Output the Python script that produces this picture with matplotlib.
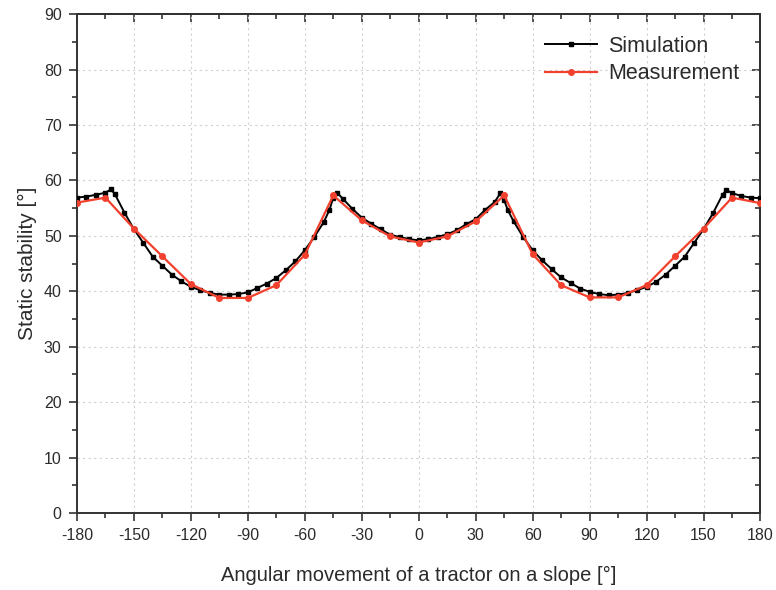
import matplotlib
matplotlib.use("Agg")
import matplotlib.pyplot as plt
from matplotlib.ticker import MultipleLocator

plt.rcParams['font.family'] = ['Liberation Sans', 'DejaVu Sans']
plt.rcParams['axes.unicode_minus'] = False

sim_x = [-180, -175, -170, -165, -162, -160, -155, -150, -145, -140, -135, -130, -125,
         -120, -115, -110, -105, -100, -95, -90, -85, -80, -75, -70, -65, -60, -55,
         -50, -47, -45, -43, -40, -35, -30, -25, -20, -15, -10, -5, 0,
         5, 10, 15, 20, 25, 30, 35, 40, 43, 45, 47, 50, 55, 60, 65, 70, 75, 80, 85,
         90, 95, 100, 105, 110, 115, 120, 125, 130, 135, 140, 145, 150, 155, 160,
         162, 165, 170, 175, 180]
sim_y = [56.9, 57.1, 57.4, 57.8, 58.4, 57.5, 54.2, 51.2, 48.7, 46.2, 44.6, 43.0, 41.8,
         40.8, 40.2, 39.7, 39.4, 39.4, 39.5, 39.8, 40.6, 41.4, 42.4, 43.8, 45.4, 47.4, 49.8,
         52.5, 54.7, 56.9, 57.8, 56.7, 54.9, 53.3, 52.2, 51.2, 50.2, 49.8, 49.4, 49.2,
         49.4, 49.8, 50.3, 51.0, 52.1, 53.0, 54.7, 56.1, 57.7, 56.4, 54.6, 52.6, 49.8,
         47.4, 45.6, 44.0, 42.5, 41.5, 40.5,
         39.9, 39.5, 39.3, 39.4, 39.7, 40.2, 40.8, 41.7, 43.0, 44.6, 46.2, 48.7, 51.2,
         54.1, 57.4, 58.3, 57.7, 57.2, 56.9, 56.8]

meas_x = [-180, -165, -150, -135, -120, -105, -90, -75, -60, -45, -30, -15, 0,
          15, 30, 45, 60, 75, 90, 105, 120, 135, 150, 165, 180]
meas_y = [56.0, 56.9, 51.3, 46.3, 41.3, 38.8, 38.8, 41.1, 46.6, 57.3, 52.8, 49.9, 48.8,
          49.9, 52.6, 57.3, 46.7, 41.1, 38.9, 38.9, 41.1, 46.3, 51.3, 56.9, 55.9]

x_ticks = [-180, -150, -120, -90, -60, -30, 0, 30, 60, 90, 120, 150, 180]
y_ticks = [0, 10, 20, 30, 40, 50, 60, 70, 80, 90]

txt = '#2b2b2b'
fig = plt.figure(figsize=(7.76, 5.90), dpi=100)
ax = fig.add_axes([0.0992, 0.1305, 0.8808, 0.8455])

ax.plot(sim_x, sim_y, color='black', lw=1.4, marker='s', ms=3.0, label='Simulation', zorder=3)
ax.plot(meas_x, meas_y, color='#f2402e', lw=1.6, marker='o', ms=4.0, label='Measurement', zorder=4)

ax.set_xlim(-180, 180)
ax.set_ylim(0, 90)
ax.set_xticks(x_ticks)
ax.set_yticks(y_ticks)
ax.xaxis.set_minor_locator(MultipleLocator(15))
ax.yaxis.set_minor_locator(MultipleLocator(5))
ax.grid(True, which='major', linestyle=(0, (2, 3)), color='#d0d0d0', lw=0.8)
ax.set_axisbelow(True)

for s in ax.spines.values():
    s.set_linewidth(1.4)
    s.set_color('#333333')

ax.tick_params(which='major', direction='out', length=6, width=1.2, color='#333333',
               labelsize=11.5, labelcolor=txt, pad=5)
ax.tick_params(which='minor', direction='out', length=3.5, width=1.2, color='#333333')

top = ax.secondary_xaxis('top')
top.set_xticks(x_ticks)
top.xaxis.set_minor_locator(MultipleLocator(15))
top.tick_params(which='major', direction='in', length=6, width=1.2, color='#333333', labeltop=False)
top.tick_params(which='minor', direction='in', length=3.5, width=1.2, color='#333333')
top.spines['top'].set_linewidth(1.4)
right = ax.secondary_yaxis('right')
right.set_yticks(y_ticks)
right.yaxis.set_minor_locator(MultipleLocator(5))
right.tick_params(which='major', direction='in', length=6, width=1.2, color='#333333', labelright=False)
right.tick_params(which='minor', direction='in', length=3.5, width=1.2, color='#333333')
right.spines['right'].set_linewidth(1.4)

ax.set_xlabel('Angular movement of a tractor on a slope [°]', fontsize=14.5, color=txt, labelpad=16)
ax.set_ylabel('Static stability [°]', fontsize=15, color=txt, labelpad=5)

leg = ax.legend(loc='upper right', frameon=False, fontsize=15.5, handlelength=2.4,
                borderaxespad=0.6, labelspacing=0.3, handletextpad=0.5)
for t in leg.get_texts():
    t.set_color(txt)

fig.savefig('out.png', dpi=100)
